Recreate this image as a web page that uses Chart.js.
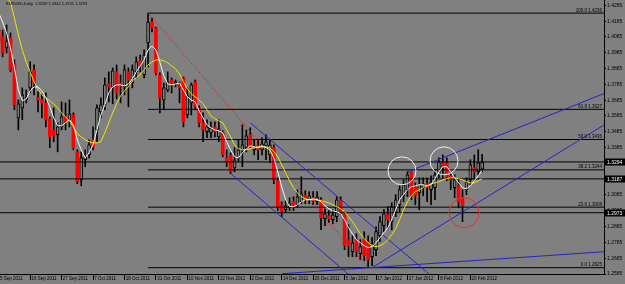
<!DOCTYPE html>
<html>
<head>
<title>EURUSD Daily</title>
<script src="https://cdn.jsdelivr.net/npm/chart.js"></script>
<style>
  html, body { margin: 0; padding: 0; background: #808080; }
  #wrap { width: 625px; height: 284px; }
</style>
</head>
<body>
<div id="wrap"><canvas id="fxChart"></canvas></div>
<script>
// daily bars, oldest first (bar 0 = 5 Sep 2011, last bar = 23 Feb 2012)
const opens = [1.4129,1.4085,1.4016,1.4079,1.3915,1.3573,1.3636,1.3687,1.3763,1.3877,
  1.3700,1.3687,1.3668,1.3567,1.3497,1.3466,1.3516,1.3580,1.3561,1.3592,
  1.3358,1.3181,1.3308,1.3339,1.3434,1.3497,1.3611,1.3655,1.3788,1.3769,
  1.3864,1.3794,1.3769,1.3864,1.3794,1.3864,1.3934,1.3845,1.4047,1.4180,
  1.4142,1.3845,1.3687,1.3750,1.3813,1.3788,1.3782,1.3826,1.3592,1.3668,
  1.3801,1.3636,1.3542,1.3485,1.3478,1.3516,1.3453,1.3478,1.3320,1.3333,
  1.3257,1.3320,1.3371,1.3384,1.3466,1.3371,1.3396,1.3371,1.3396,1.3339,
  1.3384,1.3175,1.3023,1.2992,1.3004,1.3042,1.3023,1.3042,1.3080,1.3055,
  1.3068,1.3042,1.3055,1.2935,1.2954,1.2929,1.2948,1.3049,1.2966,1.2802,
  1.2726,1.2802,1.2714,1.2802,1.2790,1.2695,1.2739,1.2827,1.2891,1.2960,
  1.2916,1.2979,1.3023,1.3080,1.3118,1.3226,1.3137,1.3099,1.3131,1.3156,
  1.3118,1.3131,1.3213,1.3289,1.3289,1.3207,1.3131,1.3143,1.3068,1.3118,
  1.3181,1.3257,1.3232,1.3249];
const highs = [1.4161,1.4129,1.4161,1.4110,1.3940,1.3687,1.3763,1.3750,1.3927,1.3908,
  1.3738,1.3725,1.3731,1.3580,1.3636,1.3542,1.3674,1.3668,1.3687,1.3605,
  1.3371,1.3358,1.3371,1.3434,1.3516,1.3655,1.3700,1.3826,1.3864,1.3889,
  1.3908,1.3845,1.3908,1.3889,1.3908,1.3959,1.3971,1.4003,1.4236,1.4205,
  1.4148,1.3858,1.3794,1.3864,1.3826,1.3813,1.3801,1.3832,1.3763,1.3794,
  1.3813,1.3649,1.3605,1.3561,1.3548,1.3548,1.3561,1.3491,1.3371,1.3352,
  1.3384,1.3434,1.3529,1.3497,1.3510,1.3434,1.3434,1.3447,1.3466,1.3434,
  1.3403,1.3194,1.3042,1.3049,1.3068,1.3074,1.3118,1.3200,1.3112,1.3106,
  1.3106,1.3106,1.3068,1.2998,1.2986,1.2992,1.3074,1.3074,1.2979,1.2897,
  1.2827,1.2840,1.2802,1.2853,1.2827,1.2815,1.2884,1.2948,1.2992,1.3011,
  1.3036,1.3087,1.3143,1.3181,1.3232,1.3232,1.3162,1.3194,1.3194,1.3194,
  1.3207,1.3244,1.3320,1.3339,1.3320,1.3232,1.3213,1.3181,1.3118,1.3194,
  1.3308,1.3339,1.3371,1.3342];
const lows = [1.4003,1.3959,1.3984,1.3864,1.3624,1.3497,1.3561,1.3668,1.3731,1.3719,
  1.3611,1.3573,1.3516,1.3384,1.3422,1.3358,1.3497,1.3497,1.3516,1.3371,
  1.3156,1.3143,1.3264,1.3320,1.3371,1.3422,1.3573,1.3624,1.3674,1.3662,
  1.3693,1.3668,1.3719,1.3643,1.3763,1.3826,1.3864,1.3826,1.3896,1.4117,
  1.3845,1.3605,1.3624,1.3738,1.3731,1.3769,1.3668,1.3516,1.3573,1.3592,
  1.3624,1.3516,1.3422,1.3447,1.3447,1.3453,1.3422,1.3327,1.3264,1.3219,
  1.3232,1.3295,1.3264,1.3358,1.3384,1.3339,1.3308,1.3339,1.3308,1.3289,
  1.3156,1.2986,1.2948,1.2973,1.2986,1.2986,1.3004,1.3030,1.3030,1.3030,
  1.3023,1.3023,1.2865,1.2891,1.2910,1.2903,1.2916,1.2960,1.2739,1.2695,
  1.2695,1.2695,1.2676,1.2670,1.2625,1.2638,1.2701,1.2790,1.2853,1.2878,
  1.2865,1.2948,1.2979,1.3042,1.3074,1.3055,1.3023,1.2992,1.3080,1.3042,
  1.3023,1.3055,1.3194,1.3194,1.3175,1.3118,1.3068,1.3004,1.2916,1.3087,
  1.3150,1.3181,1.3213,1.3231];
const closes = [1.4054,1.3984,1.4060,1.3877,1.3655,1.3662,1.3719,1.3700,1.3864,1.3794,
  1.3687,1.3668,1.3561,1.3453,1.3459,1.3516,1.3580,1.3548,1.3598,1.3384,
  1.3169,1.3320,1.3327,1.3403,1.3390,1.3636,1.3655,1.3782,1.3769,1.3870,
  1.3731,1.3775,1.3877,1.3813,1.3877,1.3927,1.3908,1.3971,1.4180,1.4142,
  1.3858,1.3700,1.3763,1.3801,1.3782,1.3801,1.3763,1.3548,1.3712,1.3782,
  1.3643,1.3542,1.3497,1.3516,1.3510,1.3485,1.3504,1.3339,1.3295,1.3232,
  1.3308,1.3371,1.3403,1.3459,1.3390,1.3396,1.3371,1.3409,1.3422,1.3403,
  1.3181,1.3011,1.2986,1.3017,1.3036,1.3004,1.3074,1.3093,1.3061,1.3080,
  1.3049,1.3074,1.2941,1.2966,1.2935,1.2960,1.3055,1.2973,1.2764,1.2764,
  1.2783,1.2726,1.2758,1.2701,1.2676,1.2777,1.2853,1.2916,1.2966,1.2929,
  1.3011,1.3055,1.3118,1.3150,1.3213,1.3087,1.3080,1.3156,1.3156,1.3131,
  1.3169,1.3213,1.3295,1.3264,1.3200,1.3181,1.3181,1.3042,1.3017,1.3169,
  1.3276,1.3232,1.3289,1.3294];

// the two moving averages, read per bar
const maFast = [1.4237,1.4180,1.4110,1.4016,1.3889,1.3750,1.3681,1.3693,1.3744,1.3769,
  1.3769,1.3744,1.3700,1.3643,1.3573,1.3523,1.3523,1.3542,1.3561,1.3529,
  1.3434,1.3371,1.3320,1.3352,1.3403,1.3497,1.3592,1.3655,1.3731,1.3769,
  1.3782,1.3782,1.3775,1.3788,1.3820,1.3864,1.3902,1.3940,1.4003,1.4028,
  1.4003,1.3927,1.3839,1.3788,1.3782,1.3788,1.3794,1.3750,1.3706,1.3687,
  1.3674,1.3617,1.3573,1.3529,1.3510,1.3497,1.3491,1.3478,1.3422,1.3371,
  1.3327,1.3320,1.3352,1.3377,1.3396,1.3390,1.3384,1.3396,1.3384,1.3371,
  1.3320,1.3232,1.3137,1.3055,1.3011,1.3011,1.3023,1.3042,1.3055,1.3055,
  1.3061,1.3055,1.3042,1.3017,1.2998,1.2985,1.2979,1.2966,1.2929,1.2878,
  1.2840,1.2802,1.2783,1.2764,1.2752,1.2758,1.2783,1.2815,1.2846,1.2878,
  1.2929,1.2992,1.3055,1.3087,1.3118,1.3137,1.3143,1.3150,1.3150,1.3143,
  1.3150,1.3188,1.3232,1.3264,1.3264,1.3232,1.3194,1.3162,1.3131,1.3124,
  1.3143,1.3175,1.3207,1.3238];
const maSlow = [1.4414,1.4370,1.4332,1.4306,1.4205,1.4098,1.4003,1.3927,1.3864,1.3801,
  1.3756,1.3719,1.3700,1.3681,1.3662,1.3636,1.3605,1.3580,1.3554,1.3516,
  1.3472,1.3453,1.3434,1.3422,1.3415,1.3415,1.3422,1.3478,1.3542,1.3605,
  1.3662,1.3712,1.3744,1.3769,1.3807,1.3826,1.3845,1.3877,1.3908,1.3927,
  1.3940,1.3940,1.3934,1.3921,1.3902,1.3883,1.3851,1.3801,1.3756,1.3725,
  1.3706,1.3687,1.3662,1.3624,1.3586,1.3567,1.3554,1.3542,1.3497,1.3453,
  1.3403,1.3377,1.3371,1.3371,1.3377,1.3384,1.3390,1.3390,1.3390,1.3384,
  1.3358,1.3327,1.3276,1.3226,1.3175,1.3131,1.3099,1.3074,1.3061,1.3055,
  1.3055,1.3055,1.3049,1.3042,1.3036,1.3023,1.3011,1.2998,1.2979,1.2948,
  1.2916,1.2878,1.2840,1.2808,1.2783,1.2764,1.2758,1.2764,1.2777,1.2802,
  1.2834,1.2872,1.2929,1.2992,1.3042,1.3080,1.3106,1.3118,1.3131,1.3143,
  1.3156,1.3162,1.3169,1.3181,1.3188,1.3194,1.3194,1.3188,1.3181,1.3169,
  1.3162,1.3162,1.3175,1.3188];

const dateTicks = [0, 8, 16, 24, 32, 40, 48, 56, 64, 72, 80, 88, 96, 104, 112, 120];
const dateLabels = ['5 Sep 2011', '16 Sep 2011', '27 Sep 2011', '7 Oct 2011', '18 Oct 2011',
  '31 Oct 2011', '10 Nov 2011', '22 Nov 2011', '2 Dec 2011', '14 Dec 2011', '26 Dec 2011',
  '5 Jan 2012', '17 Jan 2012', '27 Jan 2012', '8 Feb 2012', '20 Feb 2012'];
const priceTicks = [1.2585, 1.2685, 1.2785, 1.2885, 1.2985, 1.3085, 1.3185, 1.3285, 1.3385,
  1.3485, 1.3585, 1.3685, 1.3785, 1.3885, 1.3985, 1.4085, 1.4185, 1.4285];

// fibo from the high (bar 38) to the low (bar 94)
const fibPct = ['100.0', '61.8', '50.0', '38.2', '23.6', '0.0'];
const fibLevels = [1.4236, 1.3627, 1.3436, 1.3244, 1.3008, 1.2625];
const fibFrom = 38, fibTo = 94;
// horizontal lines across the whole chart (price label boxes on the axis)
const hLines = [1.3294, 1.3187, 1.2973];
// trend lines, [bar, price] pairs
const trendLines = [
  [[64, 1.3542], [110, 1.2574]],
  [[59.4, 1.3213], [90, 1.2562]],
  [[95, 1.2625], [154, 1.3528]],
  [[104.1, 1.3232], [154, 1.3727]],
  [[72.1, 1.2587], [154, 1.2726]]
];
const whiteCircles = [[102.6, 1.3238], [113.3, 1.3301]];
const redCircles = [[118.4, 1.2973]];

const lastBar = closes.length - 1;
const xMax = 154;
const idx = closes.map((_, i) => i);
const isUp = i => closes[i] >= opens[i];
const FONT = 'Liberation Sans';

const datasets = [];
datasets.push({
  type: 'bar', data: idx.map(i => ({ x: i, y: [lows[i], highs[i]] })),
  backgroundColor: '#000', barThickness: 1, grouped: false, order: 20
});
datasets.push({
  type: 'bar', data: idx.map(i => ({ x: i, y: [opens[i], closes[i]] })),
  backgroundColor: c => isUp(c.dataIndex) ? '#808080' : '#ff0000',
  borderColor: '#000', borderWidth: c => isUp(c.dataIndex) ? 1 : 0,
  borderSkipped: false, barThickness: 3, grouped: false, order: 19
});
fibLevels.forEach(l => datasets.push({
  type: 'line', data: [{ x: fibFrom, y: l }, { x: xMax, y: l }],
  borderColor: '#000', borderWidth: 1, pointRadius: 0, order: 8
}));
hLines.forEach(l => datasets.push({
  type: 'line', data: [{ x: 0, y: l }, { x: xMax, y: l }],
  borderColor: '#000', borderWidth: 1, pointRadius: 0, order: 8
}));
datasets.push({
  type: 'line', data: [{ x: fibFrom, y: fibLevels[0] }, { x: fibTo, y: fibLevels[5] }],
  borderColor: '#ff0000', borderWidth: 1, borderDash: [1, 2], pointRadius: 0, order: 7
});
trendLines.forEach(t => datasets.push({
  type: 'line', data: t.map(p => ({ x: p[0], y: p[1] })),
  borderColor: '#2424c8', borderWidth: 1, pointRadius: 0, order: 6
}));
datasets.push({
  type: 'line', data: idx.map(i => ({ x: i, y: maSlow[i] })),
  borderColor: '#e8e800', borderWidth: 1, pointRadius: 0, order: 5
});
datasets.push({
  type: 'line', data: idx.map(i => ({ x: i, y: maFast[i] })),
  borderColor: '#f4f4f4', borderWidth: 1, pointRadius: 0, order: 4
});
datasets.push({
  type: 'scatter', data: whiteCircles.map(p => ({ x: p[0], y: p[1] })),
  pointRadius: 14, pointBorderColor: '#f0f0f0', pointBackgroundColor: 'rgba(0,0,0,0)',
  pointBorderWidth: 1, order: 2
});
datasets.push({
  type: 'scatter', data: redCircles.map(p => ({ x: p[0], y: p[1] })),
  pointRadius: 15, pointBorderColor: '#e83030', pointBackgroundColor: 'rgba(0,0,0,0)',
  pointBorderWidth: 1, order: 2
});

// fibo texts, price boxes and the symbol header
const overlay = {
  id: 'overlay',
  afterDraw(chart) {
    const { ctx, chartArea, scales: { y } } = chart;
    ctx.save();
    ctx.font = '4.5px "' + FONT + '"';
    ctx.fillStyle = '#000';
    ctx.textAlign = 'right';
    ctx.textBaseline = 'bottom';
    fibLevels.forEach((l, k) => {
      ctx.fillText(fibPct[k] + ' ' + l.toFixed(4), chartArea.right - 2, y.getPixelForValue(l) - 0.5);
    });
    ctx.textAlign = 'left';
    ctx.textBaseline = 'middle';
    ctx.font = '5px "' + FONT + '"';
    hLines.forEach(l => {
      const py = Math.round(y.getPixelForValue(l));
      ctx.fillStyle = '#000';
      ctx.fillRect(chartArea.right + 1, py - 3.5, 21, 7);
      ctx.fillStyle = '#fff';
      ctx.fillText(l.toFixed(4), chartArea.right + 3, py + 0.5);
    });
    ctx.fillStyle = '#000';
    ctx.font = '4px "' + FONT + '"';
    const head = 'EURUSD,Daily  ' + [opens[lastBar], highs[lastBar], lows[lastBar], closes[lastBar]]
      .map(v => v.toFixed(4)).join(' ');
    ctx.fillText(head, chartArea.left + 6, chartArea.top + 4);
    ctx.restore();
  }
};

new Chart(document.getElementById('fxChart'), {
  type: 'bar',
  data: { datasets },
  plugins: [overlay],
  options: {
    responsive: true,
    maintainAspectRatio: false,
    animation: false,
    layout: { padding: 0, autoPadding: false },
    plugins: { legend: { display: false }, tooltip: { enabled: false } },
    scales: {
      x: {
        type: 'linear', min: 0.33, max: xMax, offset: false,
        afterBuildTicks: s => { s.ticks = dateTicks.map(v => ({ value: v })); },
        afterFit: s => { s.height = 10; s.paddingLeft = 0; s.paddingRight = 0; },
        ticks: {
          callback: v => ' ' + dateLabels[dateTicks.indexOf(v)],
          align: 'start', autoSkip: false, maxRotation: 0, minRotation: 0,
          padding: -4, color: '#000', font: { family: FONT, size: 4.5 }
        },
        grid: { drawOnChartArea: false, tickLength: 6, color: '#000', offset: false },
        border: { color: '#000' }
      },
      y: {
        type: 'linear', position: 'right', min: 1.2585, max: 1.4319,
        afterBuildTicks: s => { s.ticks = priceTicks.map(v => ({ value: v })); },
        afterFit: s => { s.width = 21; s.paddingTop = 0; s.paddingBottom = 0; },
        ticks: {
          callback: v => v.toFixed(4), autoSkip: false, padding: 1,
          color: '#000', font: { family: FONT, size: 5 }
        },
        grid: { drawOnChartArea: false, tickLength: 2, color: '#000' },
        border: { color: '#000' }
      }
    }
  }
});
</script>
</body>
</html>
